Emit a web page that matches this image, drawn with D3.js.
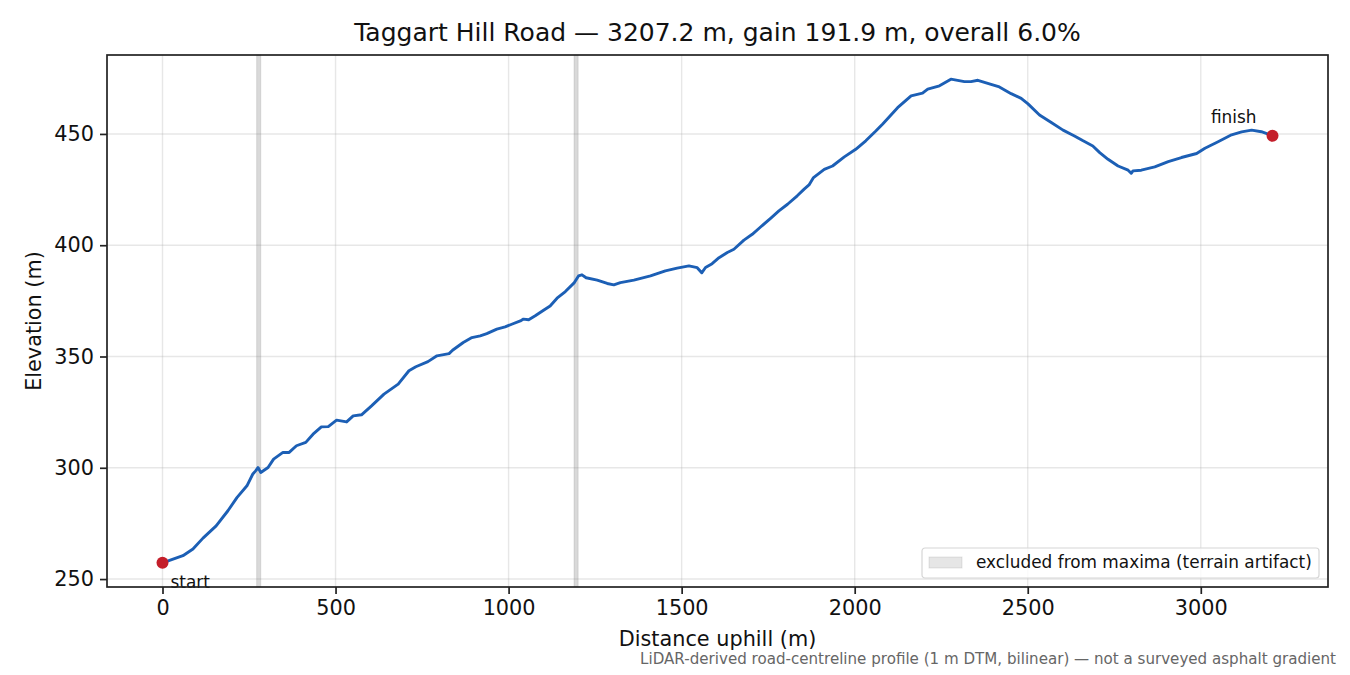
<!DOCTYPE html>
<html>
<head>
<meta charset="utf-8">
<script src="https://cdn.jsdelivr.net/npm/d3@7"></script>
<style>
  body { margin: 0; background: #fff; }
  svg { display: block; font-family: "DejaVu Sans", sans-serif; }
</style>
</head>
<body>
<div id="chart"></div>
<script>
// profile samples (distance uphill in m, elevation in m)
var distance = [0, 59, 88, 117, 155, 189, 215, 244, 261, 269, 276, 284, 305, 321, 348, 366, 387, 414, 435, 459,
  479, 503, 532, 551, 575, 604, 640, 681, 712, 732, 767, 793, 828, 838, 869, 894, 918, 937, 966, 990,
  1009, 1034, 1043, 1058, 1077, 1101, 1120, 1140, 1164, 1190, 1202, 1212, 1224, 1256, 1285, 1304, 1323, 1362, 1410, 1453,
  1487, 1521, 1545, 1558, 1569, 1588, 1608, 1632, 1651, 1680, 1704, 1728, 1757, 1781, 1806, 1834, 1854, 1868, 1881, 1912,
  1936, 1970, 2003, 2032, 2061, 2081, 2124, 2163, 2196, 2211, 2245, 2278, 2317, 2336, 2356, 2394, 2418, 2452, 2481, 2500,
  2534, 2568, 2602, 2635, 2660, 2688, 2708, 2732, 2761, 2790, 2799, 2804, 2828, 2867, 2906, 2944, 2988, 3012, 3050, 3089,
  3118, 3147, 3175, 3207.2];
var elevation = [257.3, 260.5, 263.5, 268.4, 273.9, 280.7, 286.6, 291.9, 297.2, 298.6, 300.1, 297.9, 300.1, 303.9, 306.9, 306.9, 309.9, 311.4, 315.1, 318.4,
  318.5, 321.4, 320.6, 323.3, 323.8, 327.8, 333.1, 337.6, 343.6, 345.4, 347.7, 350.3, 351.3, 352.8, 356.3, 358.5, 359.3, 360.3, 362.3, 363.3,
  364.5, 366.0, 366.8, 366.5, 368.3, 370.8, 372.7, 376.2, 379.2, 383.2, 386.2, 386.7, 385.4, 384.3, 382.8, 382.2, 383.2, 384.3, 386.2, 388.5,
  389.7, 390.7, 389.9, 387.6, 390.0, 391.7, 394.4, 396.7, 398.2, 402.3, 404.9, 408.2, 412.1, 415.4, 418.4, 422.2, 425.2, 427.1, 430.4, 434.1,
  435.6, 439.7, 443.1, 446.9, 451.3, 454.5, 461.8, 467.1, 468.3, 470.1, 471.6, 474.6, 473.5, 473.5, 474.1, 472.3, 471.1, 468.1, 466.0, 463.6,
  458.5, 455.1, 451.7, 449.1, 446.9, 444.6, 441.6, 438.6, 435.6, 433.7, 432.3, 433.4, 433.7, 435.2, 437.6, 439.4, 441.2, 443.6, 446.5, 449.6,
  450.9, 451.7, 451.0, 449.2];

// stretches excluded from maxima
var excludedStart = [272, 1189];
var excludedEnd = [284, 1201];

var xTicks = [0, 500, 1000, 1500, 2000, 2500, 3000];
var yTicks = [250, 300, 350, 400, 450];

var titleText = "Taggart Hill Road \u2014 3207.2 m, gain 191.9 m, overall 6.0%";
var xLabel = "Distance uphill (m)";
var yLabel = "Elevation (m)";
var legendLabel = "excluded from maxima (terrain artifact)";
var footText = "LiDAR-derived road-centreline profile (1 m DTM, bilinear) \u2014 not a surveyed asphalt gradient";

function plotProfile(containerId) {
    var WIDTH = 1350;
    var HEIGHT = 675;
    var MARGINS = {top: 55, right: 22, bottom: 88, left: 107};
    var LINE = "#1c5fb5";
    var DOT = "#c41e2a";

    var svg = d3.select('#' + containerId).append("svg")
        .attr("width", WIDTH)
        .attr("height", HEIGHT);

    var data = distance.map(function(d, i) { return {x: d, y: elevation[i]}; });

    // matplotlib-style 5% padding on both axes
    var xMin = d3.min(distance), xMax = d3.max(distance);
    var yMin = d3.min(elevation), yMax = d3.max(elevation);
    var xPad = (xMax - xMin) * 0.05, yPad = (yMax - yMin) * 0.05;

    var xScale = d3.scaleLinear().range([MARGINS.left, WIDTH - MARGINS.right])
                                 .domain([xMin - xPad, xMax + xPad]);
    var yScale = d3.scaleLinear().range([HEIGHT - MARGINS.bottom, MARGINS.top])
                                 .domain([yMin - yPad, yMax + yPad]);

    var left = MARGINS.left, right = WIDTH - MARGINS.right;
    var top = MARGINS.top, bottom = HEIGHT - MARGINS.bottom;

    // grid
    var grid = svg.append("g").attr("stroke", "#b0b0b0").attr("stroke-opacity", 0.3).attr("stroke-width", 1.4);
    grid.selectAll("line.gx").data(xTicks).enter().append("line")
        .attr("x1", function(d) { return xScale(d); }).attr("x2", function(d) { return xScale(d); })
        .attr("y1", top).attr("y2", bottom);
    grid.selectAll("line.gy").data(yTicks).enter().append("line")
        .attr("y1", function(d) { return yScale(d); }).attr("y2", function(d) { return yScale(d); })
        .attr("x1", left).attr("x2", right);

    // excluded bands
    svg.append("g").selectAll("rect")
        .data(excludedStart.map(function(s, i) { return [s, excludedEnd[i]]; }))
        .enter().append("rect")
        .attr("x", function(d) { return xScale(d[0]); })
        .attr("width", function(d) { return xScale(d[1]) - xScale(d[0]); })
        .attr("y", top).attr("height", bottom - top)
        .style("fill", "#808080").style("fill-opacity", 0.3)
        .style("stroke", "#808080").style("stroke-opacity", 0.2).style("stroke-width", 1);

    // profile line
    var line = d3.line()
                 .x(function(d) { return xScale(d.x); })
                 .y(function(d) { return yScale(d.y); });

    svg.append("path")
        .datum(data)
        .attr("d", line)
        .style("fill", "none")
        .style("stroke", LINE)
        .style("stroke-width", 2.9)
        .style("stroke-linejoin", "round");

    // start / finish markers
    var ends = [data[0], data[data.length - 1]];
    svg.append("g").selectAll("circle")
        .data(ends)
        .enter().append("circle")
        .attr("cx", function(d) { return xScale(d.x); })
        .attr("cy", function(d) { return yScale(d.y); })
        .attr("r", 6)
        .style("fill", DOT);

    svg.append("text")
        .attr("x", xScale(ends[0].x) + 8)
        .attr("y", yScale(ends[0].y) + 25)
        .style("font-size", "16.9px").style("fill", "#111")
        .text("start");
    svg.append("text")
        .attr("x", xScale(ends[1].x) - 16)
        .attr("y", yScale(ends[1].y) - 13)
        .attr("text-anchor", "end")
        .style("font-size", "16.9px").style("fill", "#111")
        .text("finish");

    // axes
    var xAxis = d3.axisBottom(xScale).tickValues(xTicks).tickFormat(d3.format("d"))
                  .tickSizeOuter(0).tickSizeInner(7).tickPadding(6);
    var yAxis = d3.axisLeft(yScale).tickValues(yTicks).tickFormat(d3.format("d"))
                  .tickSizeOuter(0).tickSizeInner(7).tickPadding(6);

    var gx = svg.append("g")
        .attr("transform", "translate(0, " + bottom + ")")
        .style("font-size", "20.8px")
        .call(xAxis);
    var gy = svg.append("g")
        .attr("transform", "translate(" + left + ", 0)")
        .style("font-size", "20.8px")
        .call(yAxis);
    [gx, gy].forEach(function(g) {
        g.attr("font-family", null);
        g.select(".domain").remove();
        g.selectAll(".tick line").attr("stroke", "#222").attr("stroke-width", 1.7);
        g.selectAll(".tick text").attr("fill", "#111");
    });

    svg.append("rect")
        .attr("x", left).attr("y", top)
        .attr("width", right - left).attr("height", bottom - top)
        .style("fill", "none").style("stroke", "#222").style("stroke-width", 1.7);

    // legend
    var lg = svg.append("g").attr("transform", "translate(922, 548)");
    lg.append("rect")
        .attr("width", 397).attr("height", 30).attr("rx", 3)
        .style("fill", "#fff").style("fill-opacity", 0.8)
        .style("stroke", "#d6d6d6").style("stroke-width", 1.2);
    lg.append("rect")
        .attr("x", 7).attr("y", 9).attr("width", 33).attr("height", 11)
        .style("fill", "#808080").style("fill-opacity", 0.2)
        .style("stroke", "#808080").style("stroke-opacity", 0.2).style("stroke-width", 1);
    lg.append("text")
        .attr("x", 54).attr("y", 20)
        .style("font-size", "16.9px").style("fill", "#111")
        .text(legendLabel);

    // titles
    svg.append("text")
        .attr("x", (left + right) / 2).attr("y", 41)
        .attr("text-anchor", "middle")
        .style("font-size", "25px").style("fill", "#111")
        .text(titleText);
    svg.append("text")
        .attr("x", (left + right) / 2).attr("y", 646)
        .attr("text-anchor", "middle")
        .style("font-size", "20.8px").style("fill", "#111")
        .text(xLabel);
    svg.append("text")
        .attr("transform", "translate(41, " + ((top + bottom) / 2) + ") rotate(-90)")
        .attr("text-anchor", "middle")
        .style("font-size", "20.8px").style("fill", "#111")
        .text(yLabel);
    svg.append("text")
        .attr("x", 1336).attr("y", 664)
        .attr("text-anchor", "end")
        .style("font-size", "15.1px").style("fill", "#666")
        .text(footText);
}

plotProfile("chart");
</script>
</body>
</html>
